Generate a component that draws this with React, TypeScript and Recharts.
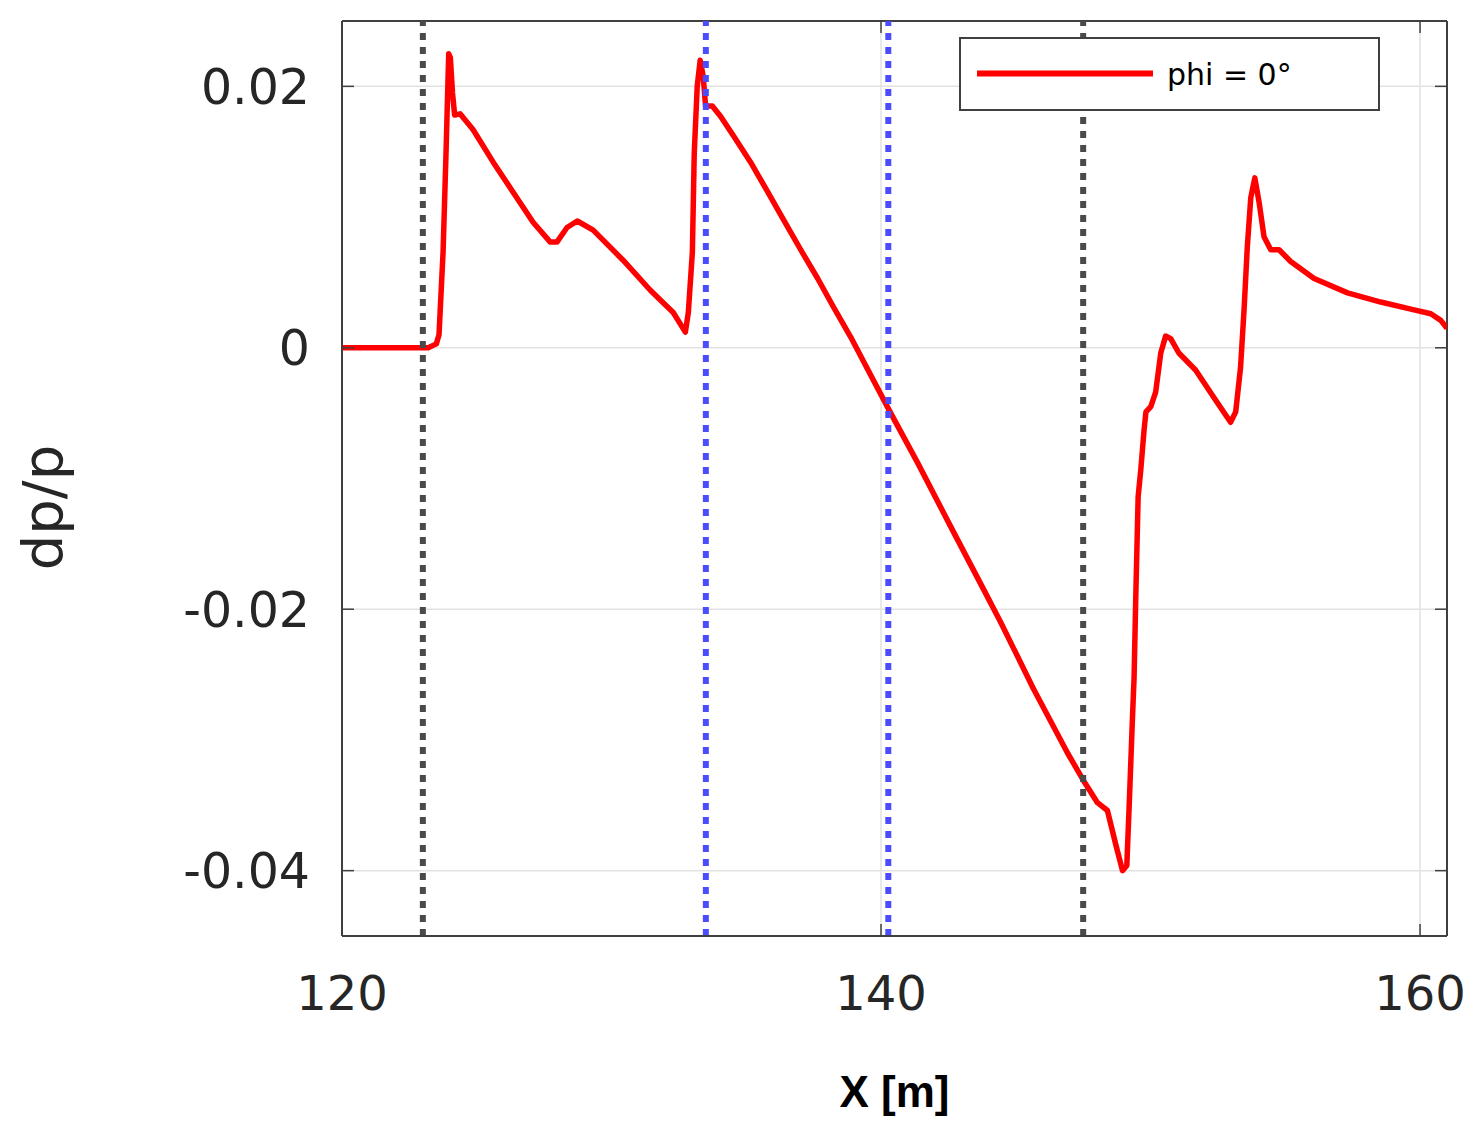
import React from "react";
import {
  LineChart,
  Line,
  XAxis,
  YAxis,
  CartesianGrid,
  ReferenceLine,
  Legend,
} from "recharts";

// ---- data ----
const xValues: number[] = [
  120.0, 123.0, 123.2, 123.5, 123.6, 123.64, 123.75, 123.86, 123.9, 123.96,
  124.02, 124.1, 124.18, 124.38, 124.86, 125.61, 126.35, 127.09, 127.72,
  127.98, 128.35, 128.73, 129.32, 130.43, 131.44, 132.29, 132.74, 132.85,
  133.0, 133.07, 133.18, 133.29, 133.4, 133.49, 133.74, 134.05, 134.53,
  135.16, 135.79, 136.38, 137.02, 137.65, 138.24, 138.88, 139.62, 140.36,
  141.36, 142.59, 143.81, 144.44, 145.66, 146.92, 147.51, 148.03,
  148.4, 148.71, 148.96, 149.12, 149.21, 149.33, 149.39, 149.45, 149.54,
  149.64, 149.76, 149.83, 150.01, 150.19, 150.38, 150.56, 150.75, 151.05,
  151.67, 152.35, 152.97, 153.16, 153.34, 153.47, 153.59, 153.72, 153.87,
  154.03, 154.21, 154.46, 154.77, 155.2, 156.07, 157.31, 158.54, 159.78,
  160.4, 160.77, 161.0,
];
const dpValues: number[] = [
  0, 0, 0, 0.0003, 0.001, 0.0027, 0.0073, 0.0149, 0.018, 0.0225,
  0.0222, 0.0195, 0.0178, 0.0179, 0.0167, 0.0142, 0.0119, 0.0096, 0.0081,
  0.0081, 0.0092, 0.0097, 0.009, 0.0067, 0.0044, 0.0027, 0.0012, 0.0027,
  0.0073, 0.0149, 0.02, 0.022, 0.0208, 0.0185, 0.0185, 0.0177, 0.0162,
  0.0142, 0.01195, 0.0098, 0.0075, 0.0053, 0.0031, 0.0008, -0.0021, -0.005,
  -0.0088, -0.0137, -0.0185, -0.021, -0.0261, -0.031, -0.0331, -0.0348,
  -0.0354, -0.038, -0.04, -0.0396, -0.0349, -0.0283, -0.0252, -0.0193, -0.0114,
  -0.0093, -0.0063, -0.0049, -0.0045, -0.0034, -0.0004, 0.0009, 0.0007, -0.0004,
  -0.0017, -0.0038, -0.0057, -0.0049, -0.0015, 0.0029, 0.0077, 0.0115, 0.013,
  0.0111, 0.0085, 0.0075, 0.0075, 0.0066, 0.0053, 0.0042, 0.0035, 0.0029,
  0.0026, 0.0021, 0.0015,
];

const seriesName = "phi = 0°";
const xTicks: number[] = [120, 140, 160];
const xTickLabels: string[] = ["120", "140", "160"];
const yTicks: number[] = [-0.04, -0.02, 0, 0.02];
const yTickLabels: string[] = ["-0.04", "-0.02", "0", "0.02"];
const xDomain: [number, number] = [120, 161];
const yDomain: [number, number] = [-0.045, 0.025];

const blackMarkers: number[] = [123, 147.5];
const blueMarkers: number[] = [133.5, 140.27];

const xLabel = "X [m]";
const yLabel = "dp/p";

const data = xValues.map((x, i) => ({ x, dp: dpValues[i] }));

// ---- layout constants ----
const CHART_W = 1468;
const CHART_H = 1112;
const MARGIN = { top: 13, right: 29, left: 0, bottom: 0 };
const Y_AXIS_W = 334;
const X_AXIS_H = 184;
const PLOT_W = CHART_W - MARGIN.right - Y_AXIS_W;
const PLOT_H = CHART_H - MARGIN.top - X_AXIS_H;
const TICK_LEN = 12;
const AXIS_COLOR = "#404040";
const TEXT_COLOR = "#262626";
const FONT = "'DejaVu Sans', Verdana, sans-serif";

const YTick = (props: any) => {
  const { x, y, payload } = props;
  const idx = yTicks.indexOf(payload.value);
  const label = idx >= 0 ? yTickLabels[idx] : String(payload.value);
  return (
    <g>
      <line x1={x} y1={y} x2={x + TICK_LEN} y2={y} stroke={AXIS_COLOR} strokeWidth={1.5} />
      <line x1={x + PLOT_W} y1={y} x2={x + PLOT_W - TICK_LEN} y2={y} stroke={AXIS_COLOR} strokeWidth={1.5} />
      <text
        x={x - 32}
        y={y}
        dy="0.36em"
        textAnchor="end"
        fontSize={49}
        fontFamily={FONT}
        fill={TEXT_COLOR}
      >
        {label}
      </text>
    </g>
  );
};

const XTick = (props: any) => {
  const { x, y, payload } = props;
  const idx = xTicks.indexOf(payload.value);
  const label = idx >= 0 ? xTickLabels[idx] : String(payload.value);
  return (
    <g>
      <line x1={x} y1={y} x2={x} y2={y - TICK_LEN} stroke={AXIS_COLOR} strokeWidth={1.5} />
      <line x1={x} y1={y - PLOT_H} x2={x} y2={y - PLOT_H + TICK_LEN} stroke={AXIS_COLOR} strokeWidth={1.5} />
      <text
        x={x}
        y={y + 74}
        textAnchor="middle"
        fontSize={48}
        fontFamily={FONT}
        fill={TEXT_COLOR}
      >
        {label}
      </text>
    </g>
  );
};

const XLabel = (props: any) => {
  const vb = props.viewBox || {};
  return (
    <text
      x={vb.x + vb.width / 2}
      y={vb.y + 171}
      textAnchor="middle"
      fontSize={44}
      fontWeight="bold"
      fontFamily="'Liberation Sans', Arial, sans-serif"
      fill="#000"
    >
      {xLabel}
    </text>
  );
};

const YLabel = (props: any) => {
  const vb = props.viewBox || {};
  const cx = vb.x + 54;
  const cy = vb.y + vb.height / 2 + 29;
  return (
    <text
      x={cx}
      y={cy}
      textAnchor="middle"
      transform={`rotate(-90, ${cx}, ${cy})`}
      fontSize={56}
      fontFamily={FONT}
      fill={TEXT_COLOR}
    >
      {yLabel}
    </text>
  );
};

const LegendBox = (props: any) => {
  const item = (props.payload && props.payload[0]) || { value: seriesName, color: "#ff0000" };
  return (
    <svg width={421} height={74} style={{ display: "block" }}>
      <rect x={1} y={1} width={419} height={72} fill="#ffffff" stroke={AXIS_COLOR} strokeWidth={2} />
      <line x1={18} y1={36.5} x2={194} y2={36.5} stroke={item.color} strokeWidth={6} />
      <text x={208} y={47.5} fontSize={30} fontFamily={FONT} fill="#000">
        {item.value}
      </text>
    </svg>
  );
};

export default function App() {
  return (
    <div style={{ width: CHART_W, height: CHART_H, background: "#fff" }}>
      <LineChart width={CHART_W} height={CHART_H} data={data} margin={MARGIN}>
        <CartesianGrid stroke="#e2e2e2" strokeWidth={1.5} />
        <XAxis
          dataKey="x"
          type="number"
          domain={xDomain}
          ticks={xTicks}
          allowDataOverflow
          height={X_AXIS_H}
          tickSize={0}
          tickMargin={0}
          tickLine={false}
          axisLine={{ stroke: AXIS_COLOR, strokeWidth: 2 }}
          tick={<XTick />}
          interval={0}
          label={<XLabel />}
        />
        <YAxis
          type="number"
          domain={yDomain}
          ticks={yTicks}
          allowDataOverflow
          width={Y_AXIS_W}
          tickSize={0}
          tickMargin={0}
          tickLine={false}
          axisLine={{ stroke: AXIS_COLOR, strokeWidth: 2 }}
          tick={<YTick />}
          interval={0}
          label={<YLabel />}
        />
        <ReferenceLine y={yDomain[1]} stroke={AXIS_COLOR} strokeWidth={2} />
        <ReferenceLine x={xDomain[1]} stroke={AXIS_COLOR} strokeWidth={2} />
        <Line
          type="linear"
          dataKey="dp"
          name={seriesName}
          stroke="#ff0000"
          strokeWidth={5.5}
          strokeLinejoin="round"
          dot={false}
          activeDot={false}
          isAnimationActive={false}
        />
        {blackMarkers.map((v) => (
          <ReferenceLine
            key={`k${v}`}
            x={v}
            stroke="#4a4a4a"
            strokeWidth={6}
            strokeDasharray="7 7"
          />
        ))}
        {blueMarkers.map((v) => (
          <ReferenceLine
            key={`b${v}`}
            x={v}
            stroke="#4c4cff"
            strokeWidth={6}
            strokeDasharray="7 7"
          />
        ))}
        <Legend
          layout="vertical"
          align="center"
          verticalAlign="middle"
          content={<LegendBox />}
          wrapperStyle={{ position: "absolute", left: 951, top: 29, width: 421, height: 74 }}
        />
      </LineChart>
    </div>
  );
}
